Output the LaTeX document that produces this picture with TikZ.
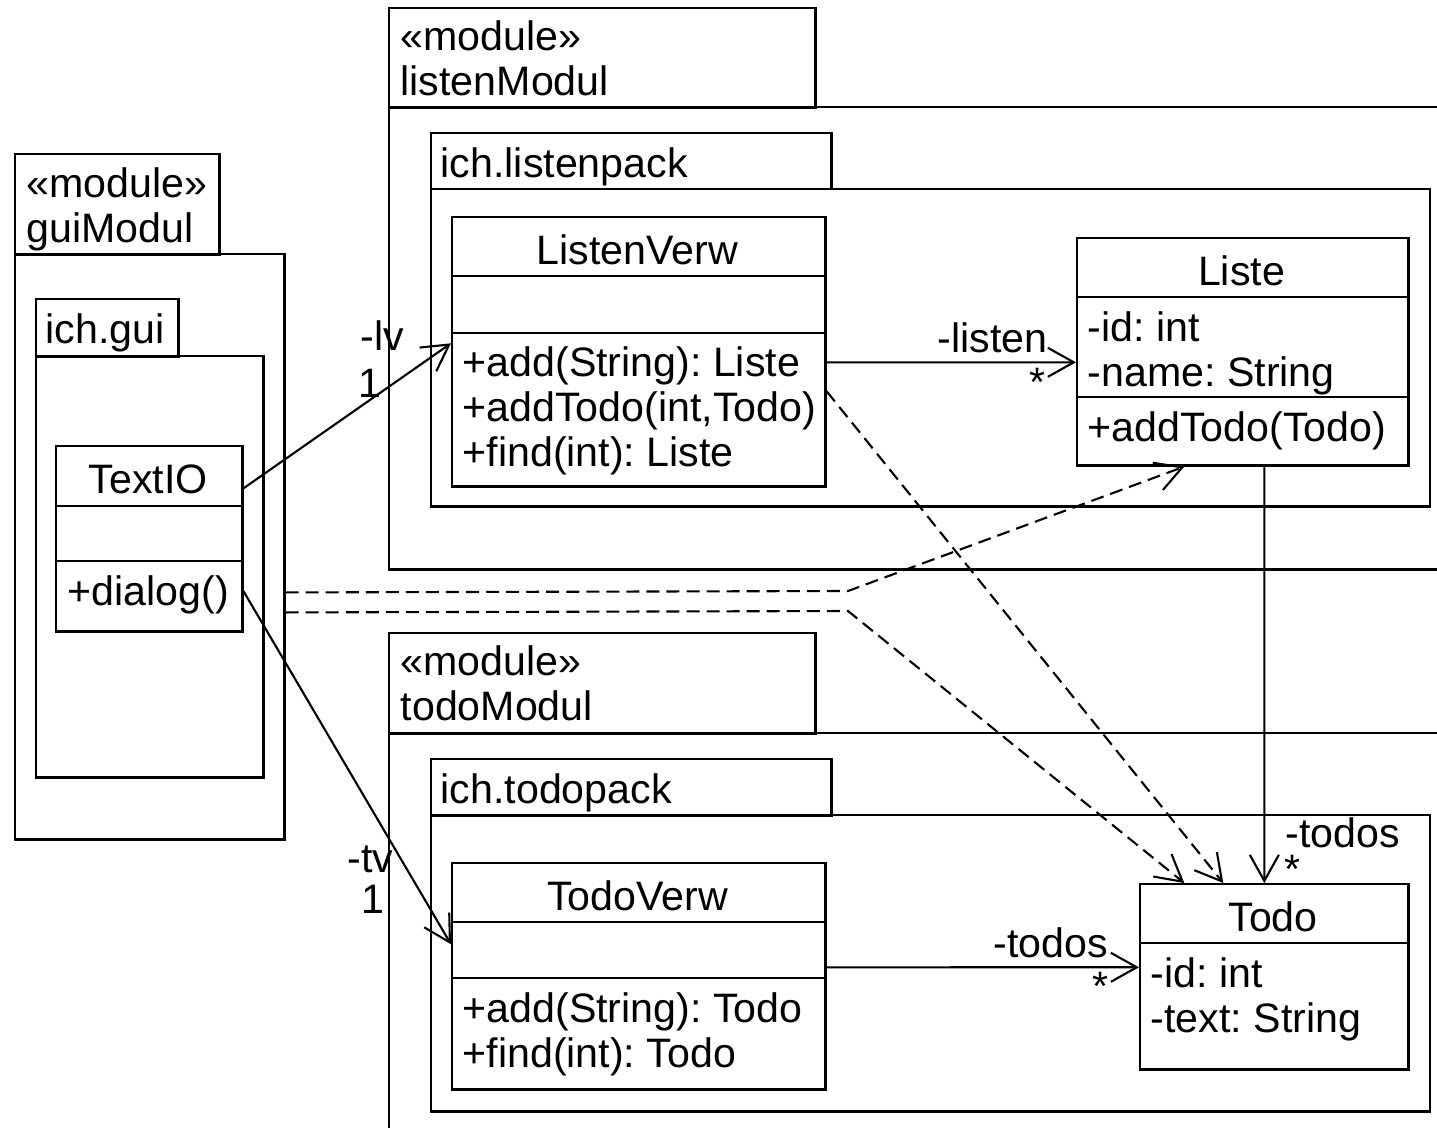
\documentclass[tikz,border=0pt]{standalone}
\usepackage{fontspec}
\setmainfont{Liberation Sans}
\usetikzlibrary{arrows.meta}
\frenchspacing
\tikzset{
  frame/.style={draw, line width=0.7pt, inner sep=0pt, anchor=north west},
  lbl/.style={inner sep=0pt, anchor=base west, font=\fontsize{11.7}{14}\selectfont},
  cname/.style={lbl, anchor=base},
  assoc/.style={line width=0.6pt, -{Straight Barb[length=2.6mm, width=2.9mm]}},
  dep/.style={assoc, dash pattern=on 3.7pt off 2pt},
}

\begin{document}
\begin{tikzpicture}[x=0.01cm, y=-0.01cm]
    \path[use as bounding box, fill=white] (0,0) rectangle (1437,1127);

    % guiModul
    \node[frame, minimum width=2.04cm, minimum height=1.00cm] (guitab) at (14,153) {};
    \node[frame, minimum width=2.69cm, minimum height=5.85cm] (guibody) at (14,253) {};
    \node[lbl] (guistereo) at (26,197) {«module»};
    \node[lbl] (guiname) at (26,242) {guiModul};
    \node[frame, minimum width=1.42cm, minimum height=0.57cm] (guipacktab) at (35,298) {};
    \node[frame, minimum width=2.27cm, minimum height=4.21cm] (guipack) at (35,355) {};
    \node[lbl] (guipackname) at (45,343) {ich.gui};

    % listenModul
    \node[frame, minimum width=4.26cm, minimum height=0.99cm] (listentab) at (388,7) {};
    \node[frame, minimum width=10.8cm, minimum height=4.62cm] (listenbody) at (388,106) {};
    \node[lbl] (listenstereo) at (400,50) {«module»};
    \node[lbl] (listenname) at (400,95) {listenModul};
    \node[frame, minimum width=4.00cm, minimum height=0.56cm] (listenpacktab) at (430,132) {};
    \node[frame, minimum width=9.98cm, minimum height=3.17cm] (listenpack) at (430,188) {};
    \node[lbl] (listenpackname) at (440,177) {ich.listenpack};

    % todoModul
    \node[frame, minimum width=4.26cm, minimum height=1.00cm] (todotab) at (388,632) {};
    \node[frame, minimum width=10.8cm, minimum height=4.30cm] (todobody) at (388,732) {};
    \node[lbl] (todostereo) at (400,675) {«module»};
    \node[lbl] (todoname) at (400,720) {todoModul};
    \node[frame, minimum width=4.00cm, minimum height=0.56cm] (todopacktab) at (430,758) {};
    \node[frame, minimum width=9.98cm, minimum height=2.96cm] (todopack) at (430,814) {};
    \node[lbl] (todopackname) at (440,803) {ich.todopack};

    % classes
    \node[frame, minimum width=1.86cm, minimum height=1.85cm] (textio) at (55,445) {};
    \draw[line width=0.7pt] ([yshift=-6.1mm]textio.north west) -- ([yshift=-6.1mm]textio.north east);
    \draw[line width=0.7pt] ([yshift=-11.6mm]textio.north west) -- ([yshift=-11.6mm]textio.north east);
    \node[cname] (textioname) at (148,493) {TextIO};
    \node[lbl] (textioop) at (67,605) {+dialog()};

    \node[frame, minimum width=3.73cm, minimum height=2.69cm] (lverw) at (451,216) {};
    \draw[line width=0.7pt] ([yshift=-6mm]lverw.north west) -- ([yshift=-6mm]lverw.north east);
    \draw[line width=0.7pt] ([yshift=-11.7mm]lverw.north west) -- ([yshift=-11.7mm]lverw.north east);
    \node[cname] (lverwname) at (637.5,264) {ListenVerw};
    \node[lbl] (lverwopa) at (462,376) {+add(String): Liste};
    \node[lbl] (lverwopb) at (462,421) {+addTodo(int,Todo)};
    \node[lbl] (lverwopc) at (462,466) {+find(int): Liste};

    \node[frame, minimum width=3.31cm, minimum height=2.27cm] (liste) at (1076,237) {};
    \draw[line width=0.7pt] ([yshift=-6mm]liste.north west) -- ([yshift=-6mm]liste.north east);
    \draw[line width=0.7pt] ([yshift=-16mm]liste.north west) -- ([yshift=-16mm]liste.north east);
    \node[cname] (listename) at (1241.5,285) {Liste};
    \node[lbl] (listeattra) at (1087,341) {-id: int};
    \node[lbl] (listeattrb) at (1087,386) {-name: String};
    \node[lbl] (listeop) at (1087,441) {+addTodo(Todo)};

    \node[frame, minimum width=3.73cm, minimum height=2.26cm] (tverw) at (451,862) {};
    \draw[line width=0.7pt] ([yshift=-6mm]tverw.north west) -- ([yshift=-6mm]tverw.north east);
    \draw[line width=0.7pt] ([yshift=-11.6mm]tverw.north west) -- ([yshift=-11.6mm]tverw.north east);
    \node[cname] (tverwname) at (637.5,910) {TodoVerw};
    \node[lbl] (tverwopa) at (462,1022) {+add(String): Todo};
    \node[lbl] (tverwopb) at (462,1067) {+find(int): Todo};

    \node[frame, minimum width=2.68cm, minimum height=1.85cm] (todo) at (1139,883) {};
    \draw[line width=0.7pt] ([yshift=-6mm]todo.north west) -- ([yshift=-6mm]todo.north east);
    \node[cname] (todoclname) at (1273,931) {Todo};
    \node[lbl] (todoattra) at (1150,987) {-id: int};
    \node[lbl] (todoattrb) at (1150,1032) {-text: String};

    % associations
    \draw[assoc] ([yshift=5.05mm]textio.east) -- ([yshift=0.85mm]lverw.west);
    \node[lbl] (lvrole) at (360,350) {-lv};
    \node[cname] (lvmult) at (370,397) {1};
    \draw[assoc] ([yshift=-5.25mm]textio.east) -- ([yshift=3.2mm]tverw.west);
    \node[lbl] (tvrole) at (347,872) {-tv};
    \node[cname] (tvmult) at (373,913) {1};
    \draw[assoc] ([yshift=-1.05mm]lverw.east) -- ([yshift=-1.05mm]liste.west);
    \node[lbl] (listenrole) at (937,352) {-listen};
    \node[cname] (listenmult) at (1037,396) {*};
    \draw[assoc] ([yshift=0.9mm]tverw.east) -- ([yshift=0.95mm]todo.west);
    \node[lbl] (todosrole) at (993,957) {-todos};
    \node[cname] (todosmult) at (1100,1000) {*};
    \draw[assoc] ([xshift=2.15mm]liste.south) -- ([xshift=-1mm]todo.north);
    \node[lbl] (listetodosrole) at (1285,847) {-todos};
    \node[cname] (listetodosmult) at (1292,883) {*};

    % dependencies
    \coordinate (bendup) at (848,591);
    \coordinate (benddown) at (848,611);
    \draw[dep] ([yshift=-4.55mm]guibody.east) -- (bendup) -- ([xshift=-5.85mm]liste.south);
    \draw[dep] ([yshift=-6.55mm]guibody.east) -- (benddown) -- ([xshift=-9mm]todo.north);
    \draw[dep] ([yshift=-3.95mm]lverw.east) -- ([xshift=-5.1mm]todo.north);
\end{tikzpicture}
\end{document}
